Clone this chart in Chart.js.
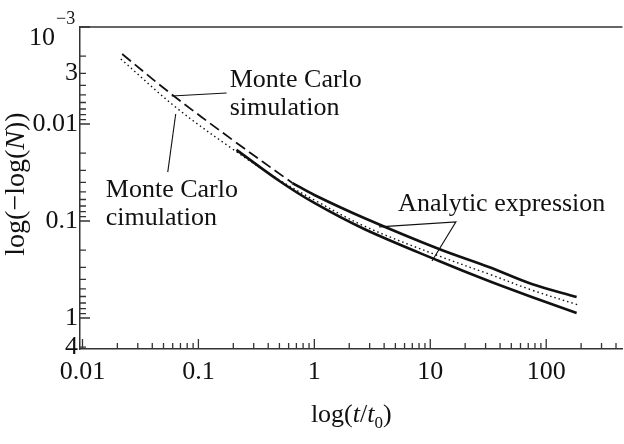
<!DOCTYPE html>
<html>
<head>
<meta charset="utf-8">
<script src="https://cdn.jsdelivr.net/npm/chart.js@4.4.0/dist/chart.umd.min.js"></script>
<style>
html, body { margin:0; padding:0; background:#fff; }
#wrap { width:624px; height:444px; }
</style>
</head>
<body>
<div id="wrap"><canvas id="grafik" width="624" height="444"></canvas></div>
<script>
// values, t/t0 vs -log(N)
var simT = [0.022, 0.057, 0.197, 0.647];
var simY = [0.0019, 0.0048, 0.0146, 0.0406];
var cimT = [0.0214, 0.065, 0.197, 0.5, 1, 2.69, 11.9, 32, 75, 190];
var cimY = [0.00214, 0.00684, 0.0181, 0.0378, 0.0608, 0.1127, 0.2296, 0.352, 0.515, 0.734];
var anaAT = [0.647, 1, 2.69, 11.9, 32, 75, 183];
var anaAY = [0.0406, 0.0539, 0.0931, 0.1945, 0.298, 0.446, 0.607];
var anaBT = [0.213, 0.5, 1, 2.69, 11.9, 32, 75, 183];
var anaBY = [0.0185, 0.0387, 0.0652, 0.121, 0.2584, 0.416, 0.607, 0.888];

var xTicks = [0.01, 0.1, 1, 10, 100];
var xLabels = ['0.01', '0.1', '1', '10', '100'];
// bottom of the y axis carries the label "4" in the original
var yTicks = [0.003, 0.01, 0.1, 1, 2];
var yLabels = ['3', '0.01', '0.1', '1', '4'];

// annotation texts and leader lines (data coords)
var notes = [
    {lines: ['Monte Carlo', 'simulation'], t: 0.186, y: 0.00416},
    {lines: ['Monte Carlo', 'cimulation'], t: 0.0159, y: 0.0566},
    {lines: ['Analytic expression'], t: 5.28, y: 0.0788}
];
var leaders = [
    [[0.0589, 0.00514], [0.175, 0.00479]],
    [[0.0637, 0.00789], [0.0544, 0.0313]],
    [[3.62, 0.115], [16.65, 0.102], [10.35, 0.258]]
];

var SERIF = '"Liberation Serif", "Times New Roman", serif';

function pts(t, y) {
    var out = [];
    for (var i = 0; i < t.length; i++) out.push({x: t[i], y: y[i]});
    return out;
}

function logTicks(lo, hi) {
    var list = [];
    for (var e = -3; e <= 3; e++) {
        for (var m = 1; m <= 9; m++) {
            var v = parseFloat((m * Math.pow(10, e)).toPrecision(6));
            if (v >= lo * 0.9999 && v <= hi * 1.0001) list.push(v);
        }
    }
    return list;
}

function labelFor(v, vals, labs) {
    for (var i = 0; i < vals.length; i++) {
        if (Math.abs(Math.log10(v) - Math.log10(vals[i])) < 1e-6) return labs[i];
    }
    return '';
}

function drawRich(ctx, segs, cx, cy) {
    var w = 0;
    segs.forEach(function(s){ ctx.font = s.f; w += ctx.measureText(s.t).width; });
    var x = cx - w / 2;
    segs.forEach(function(s){
        ctx.font = s.f;
        ctx.fillText(s.t, x, cy + (s.dy || 0));
        x += ctx.measureText(s.t).width;
    });
}

var deco = {
    id: 'deco',
    afterDraw: function(chart) {
        var c = chart.ctx, a = chart.chartArea;
        var sx = chart.scales.x, sy = chart.scales.y;
        c.save();
        c.strokeStyle = '#333';
        c.lineWidth = 1.5;
        c.beginPath();
        c.moveTo(a.left, a.top);
        c.lineTo(a.right, a.top);
        c.stroke();

        // inward tick marks
        c.lineWidth = 1.3;
        c.beginPath();
        sx.ticks.forEach(function(tk){
            var v = tk.value, m = v / Math.pow(10, Math.floor(Math.log10(v) + 1e-9));
            var len = Math.abs(m - 1) < 1e-6 ? 10 : 6;
            var p = sx.getPixelForValue(v);
            c.moveTo(p, a.bottom);
            c.lineTo(p, a.bottom - len);
        });
        sy.ticks.forEach(function(tk){
            var v = tk.value, m = v / Math.pow(10, Math.floor(Math.log10(v) + 1e-9));
            var len = Math.abs(m - 1) < 1e-6 ? 10 : 6;
            var p = sy.getPixelForValue(v);
            c.moveTo(a.left, p);
            c.lineTo(a.left + len, p);
        });
        c.stroke();

        c.fillStyle = '#111';
        c.textBaseline = 'alphabetic';
        c.textAlign = 'left';

        // 10^-3 label at the top of the y axis
        var p0 = sy.getPixelForValue(0.001);
        c.font = '26px ' + SERIF;
        c.textAlign = 'right';
        c.fillText('10', 55, p0 + 18);
        c.font = '18px ' + SERIF;
        c.textAlign = 'left';
        c.fillText('\u22123', 56, p0 - 3);

        // axis titles
        var f = '26px ' + SERIF, fi = 'italic 26px ' + SERIF, fs = '17px ' + SERIF;
        drawRich(c, [
            {t: 'log(', f: f}, {t: 't', f: fi}, {t: '/', f: f}, {t: 't', f: fi},
            {t: '0', f: fs, dy: 6}, {t: ')', f: f}
        ], (a.left + a.right) / 2, 422);
        var fy = '28px ' + SERIF, fyi = 'italic 28px ' + SERIF;
        c.save();
        c.translate(24, 184);
        c.rotate(-Math.PI / 2);
        drawRich(c, [
            {t: 'log(\u2212log(', f: fy}, {t: 'N', f: fyi}, {t: '))', f: fy}
        ], 0, 0);
        c.restore();

        // annotations
        c.font = '26px ' + SERIF;
        notes.forEach(function(n){
            var x = sx.getPixelForValue(n.t), y = sy.getPixelForValue(n.y);
            n.lines.forEach(function(l, i){ c.fillText(l, x, y + i * 28); });
        });
        c.strokeStyle = '#111';
        c.lineWidth = 1.1;
        leaders.forEach(function(ln){
            c.beginPath();
            ln.forEach(function(q, i){
                var x = sx.getPixelForValue(q[0]), y = sy.getPixelForValue(q[1]);
                if (i == 0) c.moveTo(x, y); else c.lineTo(x, y);
            });
            c.stroke();
        });
        c.restore();
    }
};

var ctx2 = document.getElementById("grafik").getContext('2d');
var myChart = new Chart(ctx2, {
    type: 'line',
    data: {
        datasets: [{
            label: 'Monte Carlo simulation',
            data: pts(simT, simY),
            borderColor: '#111',
            borderWidth: 1.8,
            borderDash: [11, 5]
        },
        {
            label: 'Monte Carlo cimulation',
            data: pts(cimT, cimY),
            borderColor: '#111',
            borderWidth: 1.4,
            borderDash: [1.5, 3]
        },
        {
            label: 'Analytic expression A',
            data: pts(anaAT, anaAY),
            borderColor: '#111',
            borderWidth: 2.6
        },
        {
            label: 'Analytic expression B',
            data: pts(anaBT, anaBY),
            borderColor: '#111',
            borderWidth: 2.6
        }]
    },
    options: {
        responsive: false,
        animation: false,
        devicePixelRatio: 1,
        layout: { padding: {top: 27, left: 0, right: 0, bottom: 0} },
        elements: {
            point: { radius: 0 },
            line: { tension: 0.35, fill: false }
        },
        plugins: {
            legend: { display: false },
            tooltip: { enabled: false }
        },
        scales: {
            x: {
                type: 'logarithmic',
                min: 0.00952,
                max: 455,
                afterFit: function(s){ s.height = 95; },
                afterBuildTicks: function(s){ s.ticks = logTicks(0.01, 455).map(function(v){ return {value: v}; }); },
                grid: { drawOnChartArea: false, drawTicks: false },
                border: { display: true, color: '#333', width: 1.5 },
                ticks: {
                    autoSkip: false,
                    maxRotation: 0,
                    padding: 8,
                    color: '#111',
                    font: { family: SERIF, size: 26 },
                    callback: function(v){ return labelFor(v, xTicks, xLabels); }
                }
            },
            y: {
                type: 'logarithmic',
                reverse: true,
                min: 0.001,
                max: 2.087,
                afterFit: function(s){ s.width = 80; },
                afterBuildTicks: function(s){ s.ticks = logTicks(0.001, 2.087).map(function(v){ return {value: v}; }); },
                grid: { drawOnChartArea: false, drawTicks: false },
                border: { display: true, color: '#333', width: 1.5 },
                ticks: {
                    autoSkip: false,
                    padding: 2,
                    color: '#111',
                    font: { family: SERIF, size: 26 },
                    callback: function(v){ return labelFor(v, yTicks, yLabels); }
                }
            }
        }
    },
    plugins: [deco]
});
</script>
</body>
</html>
